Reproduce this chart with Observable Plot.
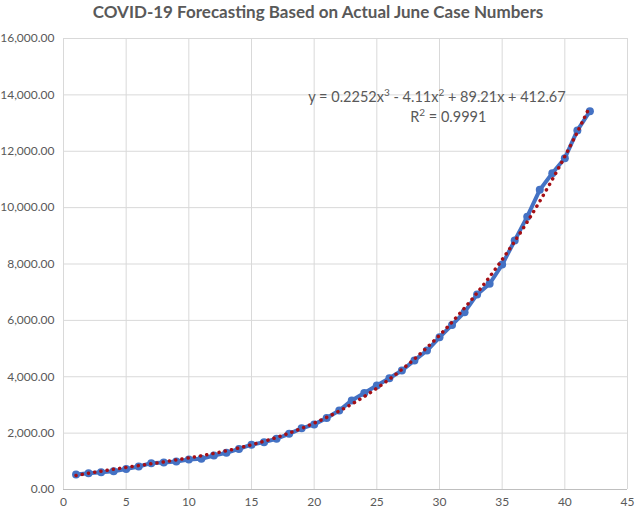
<!DOCTYPE html>
<html>
<head>
<meta charset="utf-8">
<script src="https://cdn.jsdelivr.net/npm/d3@7"></script>
<script src="https://cdn.jsdelivr.net/npm/@observablehq/plot@0.6"></script>
<style>
  body { margin: 0; background: #fff; }
  #title { font-family: Lato, "Open Sans", sans-serif; font-weight: bold; font-size: 17px; color: #595959; text-align: center; height: 28px; line-height: 24px; width: 636px; }
</style>
</head>
<body>
<div id="title">COVID-19 Forecasting Based on Actual June Case Numbers</div>
<div id="chart"></div>
<script>
const days = d3.range(1, 43);
const cases = [530, 580, 615, 650, 730, 815, 935, 960, 995, 1065,
  1090, 1205, 1300, 1440, 1590, 1680, 1800, 1975, 2170, 2310,
  2540, 2800, 3160, 3420, 3690, 3950, 4220, 4580, 4930, 5400,
  5840, 6290, 6920, 7300, 7980, 8830, 9680, 10630, 11220, 11750,
  12740, 13420];
// Polynomial trendline values (from the displayed equation)
const trend = [498, 576, 649, 718, 784, 849, 913, 979, 1047, 1119,
  1196, 1281, 1373, 1474, 1586, 1710, 1848, 2000, 2169, 2354,
  2559, 2784, 3030, 3300, 3593, 3912, 4258, 4632, 5036, 5470,
  5937, 6438, 6974, 7546, 8156, 8805, 9494, 10225, 10999, 11818,
  12682, 13594];
const xTicks = [0, 5, 10, 15, 20, 25, 30, 35, 40, 45];
const yTicks = [0, 2000, 4000, 6000, 8000, 10000, 12000, 14000, 16000];
const equation = "y = 0.2252x3 - 4.11x2 + 89.21x + 412.67";
const rSquared = "R2 = 0.9991";

const actual = days.map((d, i) => ({x: d, y: cases[i]}));
const fit = days.map((d, i) => ({x: d, y: trend[i]}));

const chart = Plot.plot({
  width: 636,
  height: 488,
  marginTop: 10,
  marginBottom: 27,
  marginLeft: 63,
  marginRight: 9,
  style: {fontFamily: "Lato, 'Open Sans', sans-serif", fontSize: "12px", color: "#595959", background: "#fff"},
  x: {domain: [0, 45], ticks: xTicks, tickSize: 0, tickPadding: 8, label: null},
  y: {domain: [0, 16000], ticks: yTicks, tickSize: 0, tickPadding: 9, tickFormat: d3.format(",.2f"), label: null},
  marks: [
    Plot.gridX(xTicks, {stroke: "#d9d9d9", strokeOpacity: 1, strokeWidth: 1}),
    Plot.gridY(yTicks, {stroke: "#d9d9d9", strokeOpacity: 1, strokeWidth: 1}),
    Plot.ruleY([0], {stroke: "#bfbfbf", strokeWidth: 1}),
    Plot.axisX({ticks: xTicks, tickSize: 0, tickPadding: 8, fill: "#595959", fontSize: 12}),
    Plot.axisY({ticks: yTicks, tickSize: 0, tickPadding: 9, tickFormat: d3.format(",.2f"), fill: "#595959", fontSize: 12}),
    Plot.line(actual, {x: "x", y: "y", stroke: "#4472C4", strokeWidth: 4}),
    Plot.dot(actual, {x: "x", y: "y", r: 4, fill: "#4472C4", stroke: "none"}),
    Plot.line(fit, {x: "x", y: "y", stroke: "#A50F15", strokeWidth: 3.5, strokeDasharray: "0.1 6.2", strokeLinecap: "round", curve: "catmull-rom"}),
    Plot.text([equation], {x: 29.8, y: 13900, text: d => d, fontSize: 14.5, fill: "#595959", className: "trend-label"}),
    Plot.text([rSquared], {x: 30.7, y: 13190, text: d => d, fontSize: 14.5, fill: "#595959", className: "trend-label"})
  ]
});
// Render exponents as real superscripts
d3.select(chart).selectAll(".trend-label text").each(function() {
  const el = d3.select(this);
  const s = el.text();
  el.text(null);
  const parts = s.split(/(?<=[xR])([23])(?= )/);
  let shift = 0; // cumulative baseline offset in px
  parts.forEach((p, i) => {
    const sup = i % 2 === 1;
    const target = sup ? -6 : 0;
    el.append("tspan")
      .attr("dy", target - shift)
      .attr("font-size", sup ? "10px" : null)
      .text(p);
    shift = target;
  });
});
document.getElementById("chart").appendChild(chart);
</script>
</body>
</html>
